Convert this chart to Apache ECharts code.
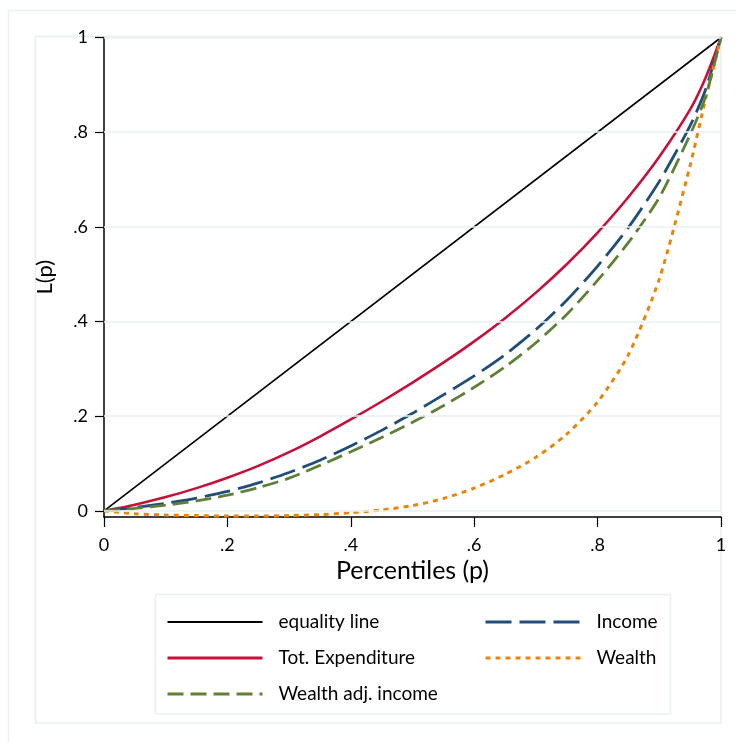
<!DOCTYPE html>
<html>
<head>
<meta charset="utf-8">
<script src="https://cdn.jsdelivr.net/npm/echarts@6/dist/echarts.min.js"></script>
<style>
  html, body { margin: 0; padding: 0; background: #fff; }
  #chart { width: 736px; height: 742px; }
</style>
</head>
<body>
<div id="chart"></div>
<script>
// percentiles (p) and Lorenz ordinates L(p)
const pValues = [0, .05, .1, .15, .2, .25, .3, .35, .4, .45, .5, .55, .6, .65, .7, .75, .8, .85, .9, .95, .975, 1];
const equalityP = [0, 1];
const equalityL = [0, 1];
const expenditure = [0, .013, .029, .048, .070, .095, .124, .157, .193, .231, .271, .313, .358, .407, .461, .521, .588, .663, .748, .848, .915, 1];
const income = [0, .007, .016, .027, .041, .059, .081, .107, .137, .170, .206, .245, .285, .330, .383, .445, .517, .599, .696, .814, .89, 1];
const wealthAdj = [0, .005, .012, .021, .033, .049, .069, .096, .125, .155, .187, .222, .261, .304, .355, .415, .487, .567, .662, .795, .875, 1];
const wealth = [0, -.006, -.009, -.01, -.011, -.011, -.01, -.008, -.004, .002, .011, .026, .048, .077, .113, .162, .230, .330, .490, .730, .87, 1];
const yTicks = [0, .2, .4, .6, .8, 1];

const FONT = 'Lato';
const GRIDCOL = '#e9f0f2';

function pairs(xs, ys) {
  return xs.map((x, i) => [x, ys[i]]);
}
function tickLabel(v) {
  if (Math.abs(v) < 1e-9) return '0';
  if (Math.abs(v - 1) < 1e-9) return '1';
  return String(+v.toFixed(1)).replace('0.', '.');
}

const chart = echarts.init(document.getElementById('chart'), null, { renderer: 'canvas' });

const legendBase = {
  top: 612, orient: 'vertical', itemGap: 16, padding: 0,
  itemWidth: 95, itemHeight: 14,
  itemStyle: { opacity: 0 },
  textStyle: { fontSize: 19, lineHeight: 20, color: '#000', fontFamily: FONT, padding: [0, 0, 0, 11] }
};
// legend icons: keep the series line widths
function legendItem(name, width) {
  return { name: name, lineStyle: { width: width } };
}

const option = {
  backgroundColor: '#fff',
  animation: false,
  textStyle: { fontFamily: FONT },
  grid: { left: 104, right: 15, top: 37.5, bottom: 225 },
  xAxis: {
    type: 'value',
    min: 0, max: 1, interval: 0.2,
    name: 'Percentiles (p)',
    nameLocation: 'middle',
    nameGap: 37,
    nameTextStyle: { fontFamily: FONT, fontSize: 25, color: '#000' },
    axisLine: { onZero: false, lineStyle: { color: '#000', width: 1.5 } },
    axisTick: { show: true, length: 10, lineStyle: { color: '#000', width: 1.2 } },
    axisLabel: { margin: 19, fontSize: 18, color: '#000', fontFamily: FONT, formatter: tickLabel },
    splitLine: { show: false }
  },
  yAxis: {
    type: 'value',
    min: -0.013, max: 1,
    name: 'L(p)',
    nameLocation: 'middle',
    nameGap: 48,
    nameRotate: 90,
    nameTextStyle: { fontFamily: FONT, fontSize: 22, color: '#000' },
    axisLine: { show: true, lineStyle: { color: '#000', width: 1.5 } },
    axisTick: { show: true, length: 9, customValues: yTicks, lineStyle: { color: '#000', width: 1.2 } },
    axisLabel: { margin: 16, fontSize: 18, color: '#000', fontFamily: FONT, customValues: yTicks, formatter: tickLabel },
    splitLine: { show: false }
  },
  legend: [
    Object.assign({}, legendBase, { left: 166, data: [
      legendItem('equality line', 2), legendItem('Tot. Expenditure', 3), legendItem('Wealth adj. income', 3)
    ] }),
    Object.assign({}, legendBase, { left: 484, data: [
      legendItem('Income', 3), legendItem('Wealth', 3)
    ] })
  ],
  graphic: [
    { type: 'rect', z: -10, silent: true, shape: { x: 8.5, y: 10.5, width: 740, height: 740 },
      style: { fill: 'none', stroke: GRIDCOL, lineWidth: 1.5 } },
    { type: 'rect', z: -10, silent: true, shape: { x: 35.5, y: 36.5, width: 685.5, height: 686.5 },
      style: { fill: 'none', stroke: GRIDCOL, lineWidth: 1.5 } },
    { type: 'rect', z: -10, silent: true, shape: { x: 155.5, y: 594.5, width: 515, height: 119.5 },
      style: { fill: 'none', stroke: GRIDCOL, lineWidth: 1.5 } }
  ],
  series: [
    {
      name: 'gridlines', type: 'line', data: [], z: 1, silent: true,
      markLine: {
        silent: true, symbol: 'none', label: { show: false },
        lineStyle: { color: GRIDCOL, width: 1.5, type: 'solid' },
        data: yTicks.map(v => ({ yAxis: v }))
      }
    },
    {
      name: 'equality line', type: 'line', z: 3, showSymbol: false, symbol: 'none', clip: false,
      data: pairs(equalityP, equalityL),
      color: '#000',
      lineStyle: { color: '#000', width: 1.6 }
    },
    {
      name: 'Tot. Expenditure', type: 'line', z: 3, showSymbol: false, symbol: 'none', clip: false,
      smooth: 0.25,
      data: pairs(pValues, expenditure),
      color: '#c5103a',
      lineStyle: { color: '#c5103a', width: 2.6 }
    },
    {
      name: 'Income', type: 'line', z: 3, showSymbol: false, symbol: 'none', clip: false,
      smooth: 0.25,
      data: pairs(pValues, income),
      color: '#1f4e79',
      lineStyle: { color: '#1f4e79', width: 2.8, type: [26, 8] }
    },
    {
      name: 'Wealth', type: 'line', z: 3, showSymbol: false, symbol: 'none', clip: false,
      smooth: 0.25,
      data: pairs(pValues, wealth),
      color: '#e8860c',
      lineStyle: { color: '#e8860c', width: 3, type: [5, 5] }
    },
    {
      name: 'Wealth adj. income', type: 'line', z: 3, showSymbol: false, symbol: 'none', clip: false,
      smooth: 0.25,
      data: pairs(pValues, wealthAdj),
      color: '#5f8036',
      lineStyle: { color: '#5f8036', width: 2.8, type: [16, 7] }
    }
  ]
};

chart.setOption(option);
</script>
</body>
</html>
